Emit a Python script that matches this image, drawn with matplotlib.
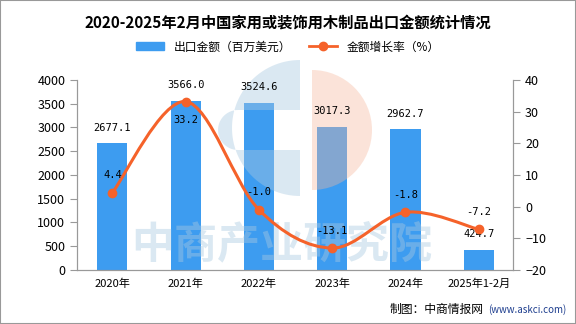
import numpy as np
import matplotlib.pyplot as plt
from matplotlib.path import Path
from matplotlib.patches import PathPatch, Patch, Wedge
from matplotlib.lines import Line2D
from matplotlib.transforms import Affine2D

plt.rcParams['font.family'] = ['Noto Sans CJK SC', 'DejaVu Sans']

years = ["2020年", "2021年", "2022年", "2023年", "2024年", "2025年1-2月"]
amount = [2677.1, 3566.0, 3524.6, 3017.3, 2962.7, 424.7]
growth = [4.4, 33.2, -1.0, -13.1, -1.8, -7.2]

bar_c = '#3d9cf0'
line_c = '#f5622a'
mono = ['DejaVu Sans Mono']

fig = plt.figure(figsize=(5.76, 3.24), dpi=100)
ax = fig.add_axes([0.134, 0.167, 0.757, 0.586])
ax2 = ax.twinx()

x = np.arange(len(years))
ax.bar(x, amount, width=0.41, color=bar_c, zorder=2)
ax.set_ylim(0, 4000)
ax.set_yticks(range(0, 4001, 500))
ax.set_xlim(-0.48, 5.47)
ax.set_xticks(x)
ax.set_xticklabels(years, fontsize=8)
for xi, v in zip(x, amount):
    ax.annotate(f"{v:.1f}", (xi, v), xytext=(0, 11), textcoords='offset points',
                ha='center', va='center', fontsize=7.5, family=mono, zorder=5)

ax2.set_ylim(-20, 40)
ax2.set_yticks(range(-20, 41, 10))

# smooth curve through the points (Catmull-Rom as bezier)
pts = np.column_stack([x, growth]).astype(float)
verts = [tuple(pts[0])]
codes = [Path.MOVETO]
for i in range(len(pts) - 1):
    p0 = pts[max(i - 1, 0)]
    p1 = pts[i]
    p2 = pts[i + 1]
    p3 = pts[min(i + 2, len(pts) - 1)]
    c1 = p1 + (p2 - p0) / 6
    c2 = p2 - (p3 - p1) / 6
    verts += [tuple(c1), tuple(c2), tuple(p2)]
    codes += [Path.CURVE4] * 3
ax2.add_patch(PathPatch(Path(verts, codes), fill=False, edgecolor=line_c, lw=2.2, zorder=3))
ax2.plot(x, growth, 'o', color=line_c, ms=6, zorder=4)
for xi, v in zip(x, growth):
    dy = -13 if v > 30 else 12.5
    ax2.annotate(f"{v:.1f}", (xi, v), xytext=(0, dy), textcoords='offset points',
                 ha='center', va='center', fontsize=7.5, family=mono, zorder=5)

for a in (ax, ax2):
    a.spines['top'].set_visible(False)
    for s in ('left', 'right', 'bottom'):
        a.spines[s].set_color('#999999')
    a.tick_params(axis='y', colors='#999999', labelcolor='black', labelsize=9, length=5)
ax.tick_params(axis='x', length=0, pad=6)

# watermark (pixel coordinates from the top-left), above bars, below labels
px = Affine2D().scale(1, -1).translate(0, 324)
wm_blue = '#a9c9e0'
t = np.linspace(np.pi / 2, 3 * np.pi / 2, 60)
outer = np.column_stack([300 + 68 * np.cos(t), 128 - 68 * np.sin(t)])
s = np.linspace(np.pi / 2, 3 * np.pi / 2, 30)
slot = np.vstack([[[300, 110], [300, 150]],
                  np.column_stack([238 + 20 * np.cos(s), 130 + 20 * np.sin(s)])])
logo_path = Path.make_compound_path(Path(np.vstack([outer, outer[:1]]), closed=True),
                                    Path(np.vstack([slot, slot[:1]]), closed=True))
ax.add_patch(PathPatch(logo_path, transform=px, facecolor=wm_blue, alpha=0.42, lw=0,
                       zorder=2.5, clip_on=False))
ax.add_patch(Wedge((312, 130), 60, 270, 90, transform=px, color='#f6b79c', alpha=0.38,
                   lw=0, zorder=2.5, clip_on=False))
ax.text(282, 244, "中商产业研究院", transform=px, ha='center', va='center', fontsize=31,
        color=wm_blue, alpha=0.42, fontweight='bold', zorder=2.5, clip_on=False)

fig.suptitle("2020-2025年2月中国家用或装饰用木制品出口金额统计情况", y=0.955,
             fontsize=11, fontweight='bold')
handles = [Patch(color=bar_c), Line2D([], [], color=line_c, lw=2, marker='o', ms=6)]
fig.legend(handles, ["出口金额（百万美元）", "金额增长率（%）"], loc='center',
           bbox_to_anchor=(0.5, 0.855), ncol=2, frameon=False, fontsize=8.5,
           handlelength=2.4, columnspacing=1.5)

fig.text(484 / 576, 0.045, "制图：中商情报网", fontsize=8.5, ha='right', va='center')
fig.text(566 / 576, 0.045, "(www.askci.com)", fontsize=7, ha='right', va='center', color='#1f3f8f')

fig.patches.append(plt.Rectangle((0, 0), 1, 1, transform=fig.transFigure,
                                 fill=False, edgecolor='#999999', lw=1.5))
fig.savefig('out.png', dpi=100)
